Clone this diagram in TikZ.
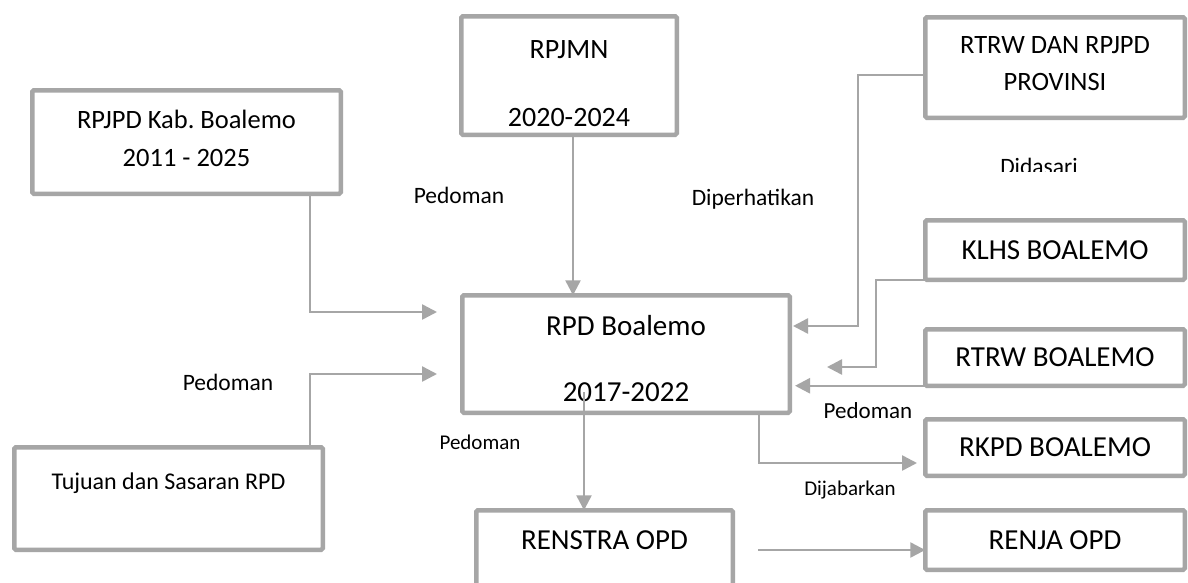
\documentclass[tikz,border=0pt]{standalone}
\usepackage{fontspec}
\setmainfont{Carlito}
\usetikzlibrary{arrows.meta,calc}
\definecolor{lgray}{RGB}{166,166,166}
\newcommand{\myfs}[2]{\fontsize{#1pt}{#2pt}\selectfont}
\newcommand{\bxt}[4]{\parbox[c][#1pt][t]{#2pt}{\centering\vspace*{#3pt}#4\par}}
\frenchspacing
\begin{document}
\begin{tikzpicture}[x=1pt,y=-1pt,
  box/.style={draw=lgray, line width=4.5pt, rounded corners=1.5pt, fill=white, inner sep=0pt, outer sep=0pt, text=black},
  conn/.style={draw=lgray, line width=2.5pt, -{Triangle[length=15pt,width=15pt]}},
  lbl/.style={inner sep=0pt, text=black}]
\fill[white] (0,0) rectangle (1188,582);
\useasboundingbox (0,0) rectangle (1188,582);
\clip (0,0) rectangle (1188,582);

% boxes
\node[box] (rpjpd) at (186.5,142) {\bxt{103.5}{308.5}{11.65}{\myfs{26.5}{38}\strut RPJPD Kab. Boalemo\\2011 - 2025}};
\node[box] (rpjmn) at (569,75.5) {\bxt{118.5}{215.5}{-5.85}{\myfs{28}{68}\strut RPJMN\\2020-2024}};
\node[box] (prov) at (1055,67.5) {\bxt{100.5}{259.5}{10.35}{\myfs{26.5}{37}\strut RTRW DAN RPJPD\\PROVINSI}};
\node[box] (rpd) at (626,354) {\bxt{117.5}{327.5}{-6.15}{\myfs{29}{66}\strut RPD Boalemo\\2017-2022}};
\node[box] (renstra) at (604.5,564) {\bxt{107.5}{256.5}{14.55}{\myfs{29}{35}\strut RENSTRA OPD}};
\node[box] (tujuan) at (168.5,498.5) {\bxt{102.5}{308.5}{22.15}{\myfs{24}{29}\strut Tujuan dan Sasaran RPD}};
\node[box, minimum width=259.5pt, minimum height=59.5pt, font={\myfs{29}{35}}] (klhs) at (1055,250) {KLHS BOALEMO};
\node[box, minimum width=259.5pt, minimum height=56.5pt, font={\myfs{29}{35}}] (rtrwb) at (1055,357.5) {RTRW BOALEMO};
\node[box, minimum width=259.5pt, minimum height=56.5pt, font={\myfs{29}{35}}] (rkpd) at (1055,447.5) {RKPD BOALEMO};
\node[box, minimum width=259.5pt, minimum height=59.5pt, font={\myfs{29}{35}}] (renja) at (1055,540) {RENJA OPD};

% connectors
\coordinate (k1) at (310,312);
\coordinate (e1) at (437,312);
\draw[conn] (rpjpd.south -| k1) -- (k1) -- (e1);

\coordinate (k2) at (310,374);
\coordinate (e2) at (437,374);
\draw[conn] (tujuan.north -| k2) -- (k2) -- (e2);

\coordinate (s3) at ([xshift=4pt]rpjmn.south);
\draw[conn] (s3) -- (s3 |- rpd.north);

\coordinate (k3) at (858,75);
\coordinate (k3b) at (858,326);
\coordinate (e3) at (793,326);
\draw[conn] (prov.west |- k3) -- (k3) -- (k3b) -- (e3);

\coordinate (k4) at (876,367);
\coordinate (e4) at (827,367);
\draw[conn] (klhs.south west) -- (klhs.south west -| k4) -- (k4) -- (e4);

\coordinate (e5) at (795,386);
\draw[conn] (rtrwb.south west) -- (rtrwb.south west -| e5);

\coordinate (s6) at (584,392);
\draw[conn] (s6) -- (s6 |- renstra.north);

\coordinate (s7) at ([xshift=133pt]rpd.south);
\coordinate (e7) at (917,463);
\draw[conn] (s7) |- (e7);

\coordinate (s8) at (758,550);
\draw[conn] (s8) -- (s8 -| renja.west);

% labels
\node[lbl, font={\myfs{23.5}{28}}] (l1) at (459,195) {Pedoman};
\node[lbl, font={\myfs{23.5}{28}}] (l2) at (753,199) {Diperhatikan};
\begin{scope}
\clip (990,140) rectangle (1090,171);
\node[lbl, font={\myfs{23.5}{28}}] (l3) at (1039,166) {Didasari};
\end{scope}
\node[lbl, font={\myfs{23.5}{28}}] (l4) at (228,382) {Pedoman};
\node[lbl, font={\myfs{23}{28}}] (l5) at (868,411) {Pedoman};
\node[lbl, font={\myfs{21}{25}}] (l6) at (480,442) {Pedoman};
\node[lbl, font={\myfs{21}{25}}] (l7) at (850,490) {Dijabarkan};
\end{tikzpicture}
\end{document}
